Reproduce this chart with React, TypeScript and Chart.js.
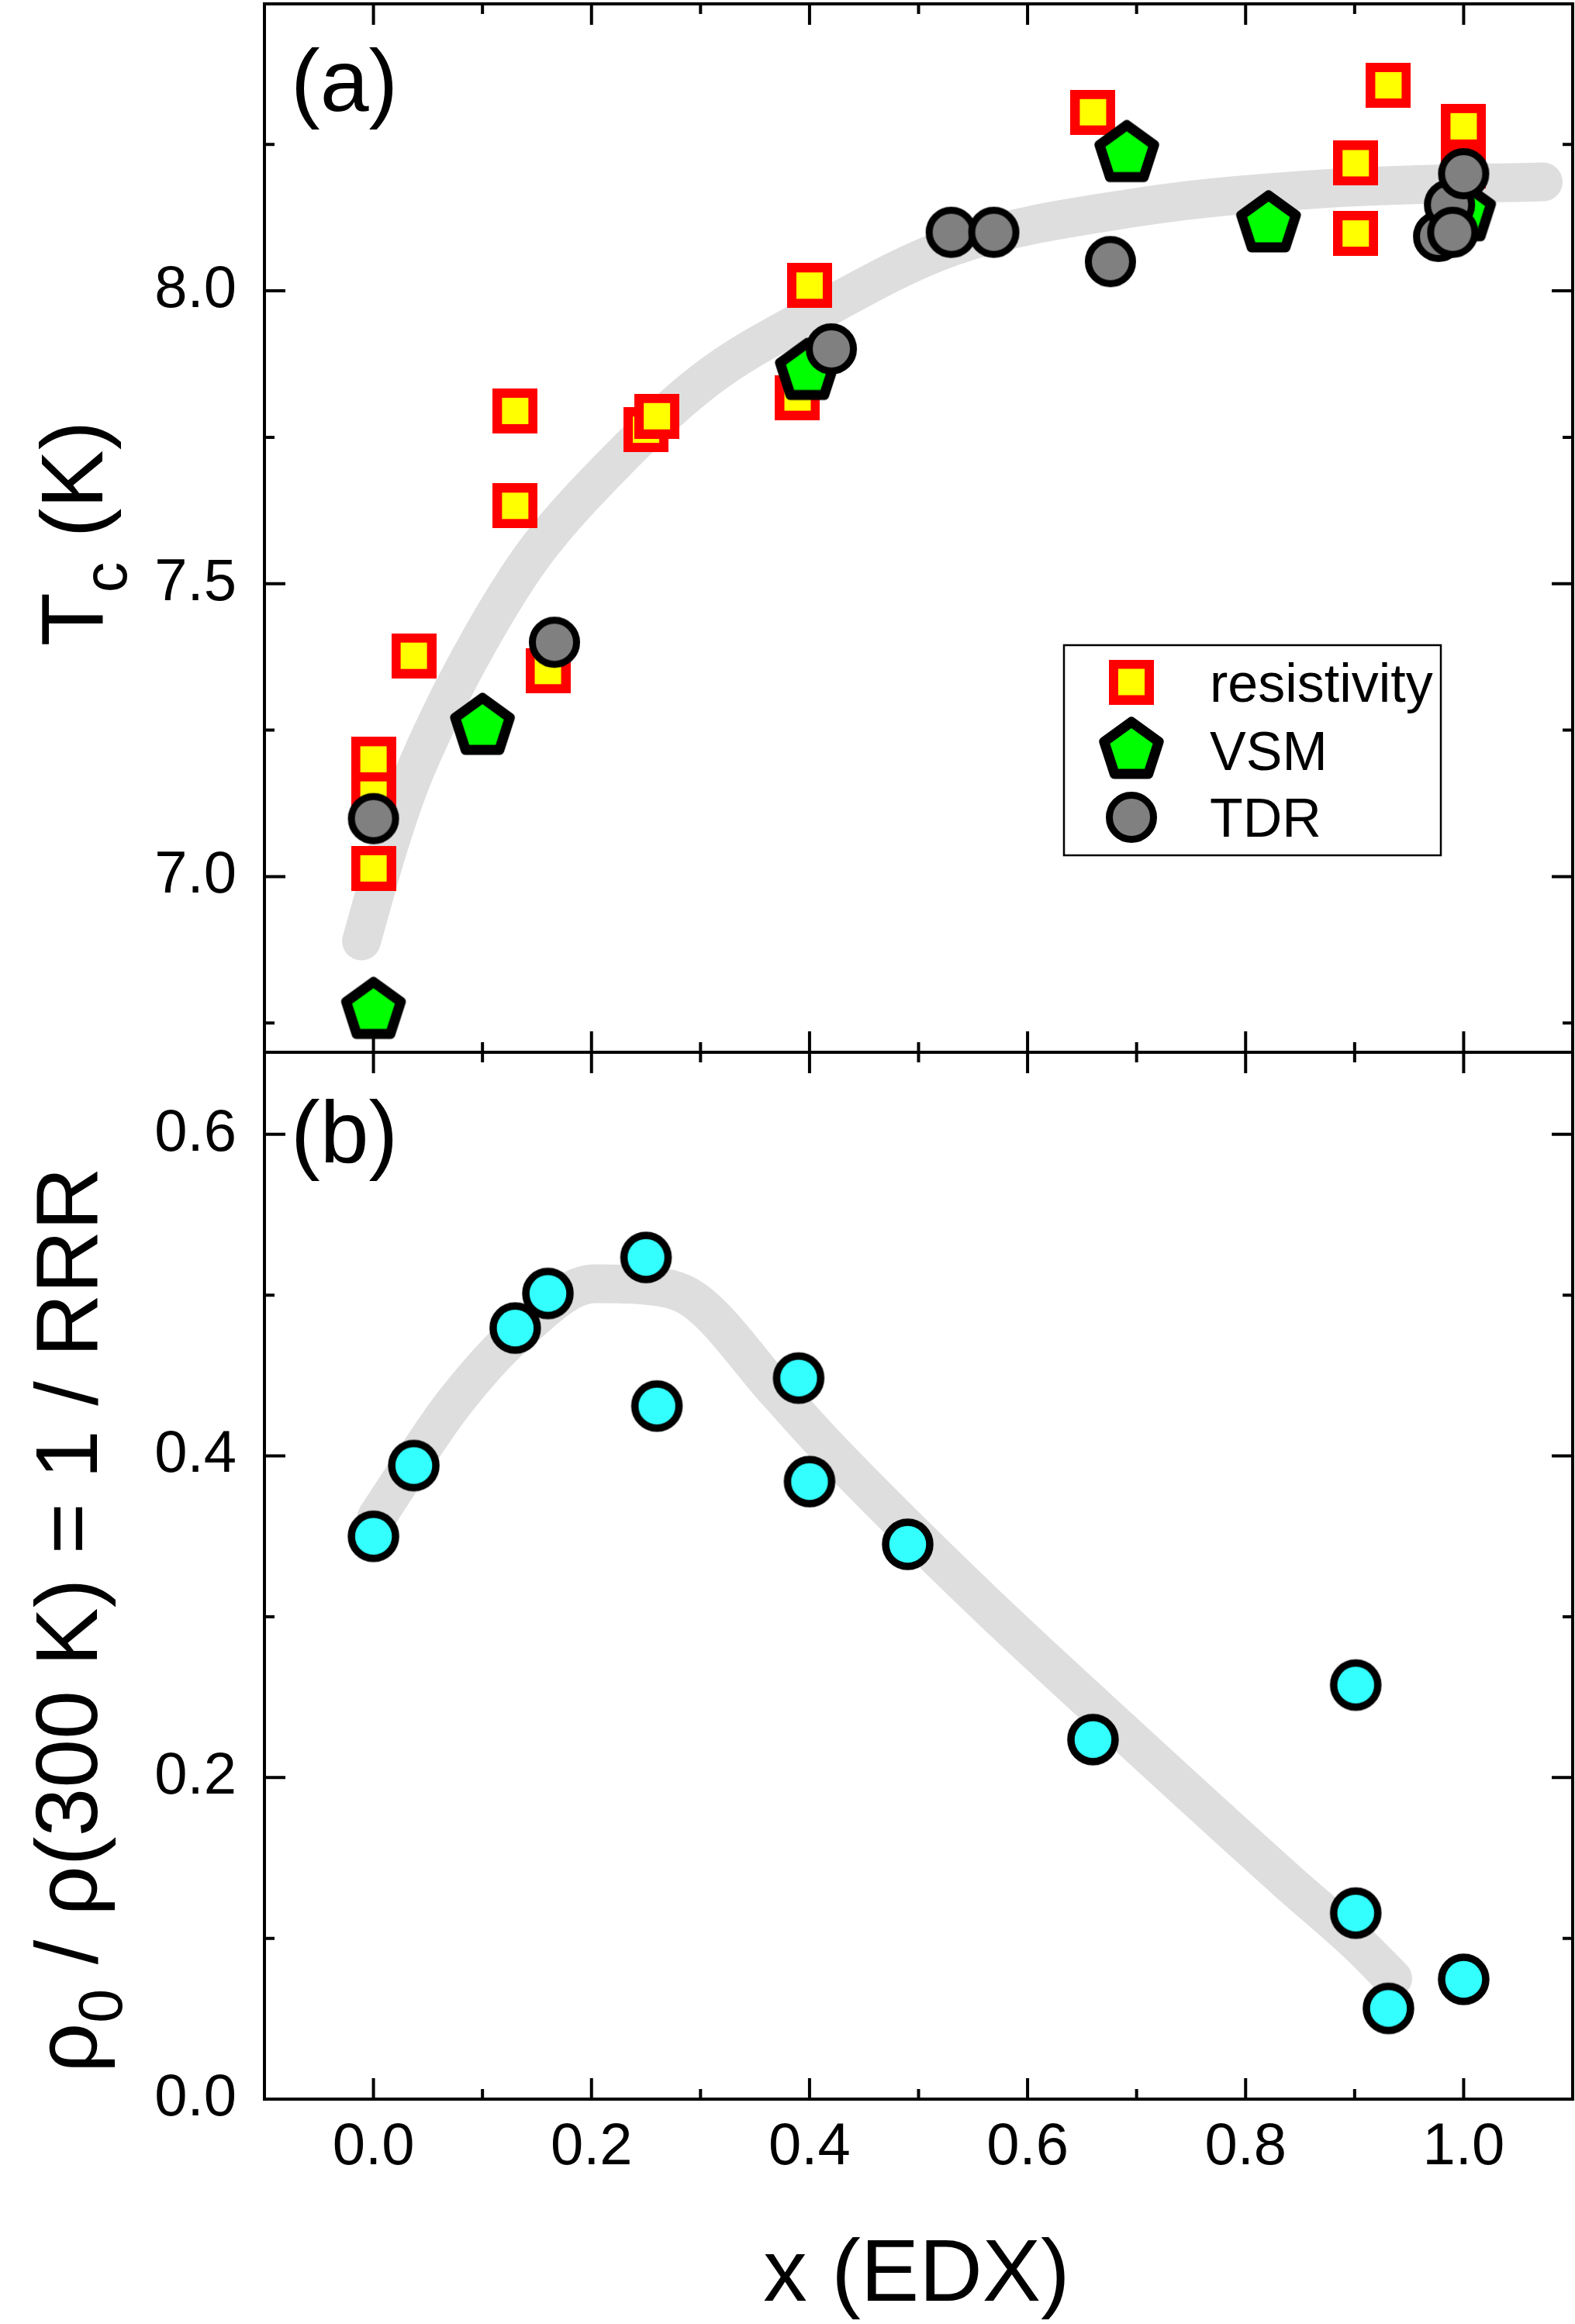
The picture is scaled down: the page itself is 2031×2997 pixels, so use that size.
import React, { useEffect, useRef } from 'react';
import { Chart, registerables } from 'chart.js';

Chart.register(...registerables);

const FONT = "'Liberation Sans', Arial, Helvetica, sans-serif";

// ---------- axes ----------
const xMin = -0.1;
const xMax = 1.1;
const xMajorTicks = [0.0, 0.2, 0.4, 0.6, 0.8, 1.0];
const xMinorTicks = [0.1, 0.3, 0.5, 0.7, 0.9];

const tcMin = 6.7;
const tcMax = 8.49;
const tcMajorTicks = [7.0, 7.5, 8.0];
const tcMinorTicks = [6.75, 7.25, 7.75, 8.25];

const rrrMin = 0.0;
const rrrMax = 0.651;
const rrrMajorTicks = [0.0, 0.2, 0.4, 0.6];
const rrrMinorTicks = [0.1, 0.3, 0.5];

// ---------- panel (a): Tc ----------
const resistivityX = [0.0, 0.0, 0.0, 0.037, 0.13, 0.13, 0.16, 0.25, 0.26, 0.389, 0.40, 0.66, 0.901, 0.901, 0.931, 1.0, 1.0];
const resistivityTc = [7.20, 7.14, 7.014, 7.377, 7.795, 7.633, 7.351, 7.763, 7.786, 7.818, 8.009, 8.305, 8.218, 8.098, 8.351, 8.281, 8.213];

const vsmX = [0.0, 0.10, 0.398, 0.691, 0.821, 1.0];
const vsmTc = [6.771, 7.256, 7.862, 8.234, 8.114, 8.133];

const tdrX = [0.0, 0.166, 0.42, 0.53, 0.569, 0.676, 0.977, 0.987, 0.99, 1.0];
const tdrTc = [7.099, 7.40, 7.901, 8.10, 8.10, 8.05, 8.093, 8.147, 8.10, 8.20];

const tcGuideX = [-0.011, 0.012, 0.033, 0.061, 0.094, 0.132, 0.155, 0.205, 0.303, 0.408, 0.53, 0.698, 0.886, 1.073];
const tcGuideY = [6.89, 7.04, 7.156, 7.274, 7.392, 7.51, 7.57, 7.675, 7.846, 7.964, 8.075, 8.142, 8.176, 8.186];

const legendLabels = ['resistivity', 'VSM', 'TDR'];

// ---------- panel (b): rho0 / rho(300 K) ----------
const rrrX = [0.0, 0.037, 0.13, 0.16, 0.25, 0.26, 0.39, 0.40, 0.49, 0.66, 0.901, 0.901, 0.931, 1.0];
const rrrY = [0.350, 0.394, 0.4795, 0.501, 0.5234, 0.431, 0.4484, 0.384, 0.345, 0.2236, 0.2575, 0.1157, 0.0564, 0.0745];

const rrrGuideX = [0.003, 0.037, 0.074, 0.13, 0.203, 0.25, 0.294, 0.37, 0.417, 0.558, 0.698, 0.839, 0.901, 0.935];
const rrrGuideY = [0.362, 0.397, 0.433, 0.475, 0.507, 0.506, 0.497, 0.44, 0.405, 0.31, 0.222, 0.135, 0.098, 0.075];

const toPoints = (xs: number[], ys: number[]) => xs.map((x, i) => ({ x, y: ys[i] }));

// ---------- marker images ----------
function makeSquare() {
  const c = document.createElement('canvas');
  c.width = 58;
  c.height = 58;
  const g = c.getContext('2d')!;
  g.fillStyle = '#ff0000';
  g.fillRect(0, 0, 58, 58);
  g.fillStyle = '#ffff00';
  g.fillRect(12, 12, 34, 34);
  return c;
}

function makePentagon() {
  const c = document.createElement('canvas');
  c.width = 96;
  c.height = 96;
  const g = c.getContext('2d')!;
  const R = 37;
  g.beginPath();
  for (let k = 0; k < 5; k++) {
    const a = -Math.PI / 2 + (k * 2 * Math.PI) / 5;
    const px = 48 + R * Math.cos(a);
    const py = 48 + R * Math.sin(a);
    if (k === 0) g.moveTo(px, py);
    else g.lineTo(px, py);
  }
  g.closePath();
  g.fillStyle = '#00ff00';
  g.fill();
  g.lineWidth = 13;
  g.lineJoin = 'round';
  g.strokeStyle = '#000000';
  g.stroke();
  return c;
}

function makeCircle(fill: string, r: number, lw: number) {
  const size = Math.ceil(2 * r + lw + 4);
  const c = document.createElement('canvas');
  c.width = size;
  c.height = size;
  const g = c.getContext('2d')!;
  g.beginPath();
  g.arc(size / 2, size / 2, r, 0, Math.PI * 2);
  g.fillStyle = fill;
  g.fill();
  g.lineWidth = lw;
  g.strokeStyle = '#000000';
  g.stroke();
  return c;
}

// ---------- drawing helpers ----------
function drawFrame(chart: any, yMajor: number[], yMinor: number[]) {
  const { ctx, chartArea: a, scales } = chart;
  const xs = scales.x;
  const ys = scales.y;
  ctx.save();
  ctx.strokeStyle = '#000';
  ctx.lineWidth = 4;
  ctx.lineCap = 'butt';
  ctx.beginPath();
  const major = 27;
  const minor = 13;
  const xt = (v: number, len: number) => {
    const p = xs.getPixelForValue(v);
    ctx.moveTo(p, a.bottom);
    ctx.lineTo(p, a.bottom - len);
    ctx.moveTo(p, a.top);
    ctx.lineTo(p, a.top + len);
  };
  const yt = (v: number, len: number) => {
    const p = ys.getPixelForValue(v);
    ctx.moveTo(a.left, p);
    ctx.lineTo(a.left + len, p);
    ctx.moveTo(a.right, p);
    ctx.lineTo(a.right - len, p);
  };
  xMajorTicks.forEach((v) => xt(v, major));
  xMinorTicks.forEach((v) => xt(v, minor));
  yMajor.forEach((v) => yt(v, major));
  yMinor.forEach((v) => yt(v, minor));
  ctx.stroke();
  ctx.strokeRect(a.left, a.top, a.right - a.left, a.bottom - a.top);
  ctx.restore();
}

type Piece = { text: string; size: number; dy: number };

function drawRotated(ctx: CanvasRenderingContext2D, pieces: Piece[], baseX: number, centerY: number) {
  ctx.save();
  ctx.translate(baseX, centerY);
  ctx.rotate(-Math.PI / 2);
  ctx.fillStyle = '#000';
  ctx.textBaseline = 'alphabetic';
  ctx.textAlign = 'left';
  let total = 0;
  const widths = pieces.map((p) => {
    ctx.font = `${p.size}px ${FONT}`;
    const w = ctx.measureText(p.text).width;
    total += w;
    return w;
  });
  let cx = -total / 2;
  pieces.forEach((p, i) => {
    ctx.font = `${p.size}px ${FONT}`;
    ctx.fillText(p.text, cx, p.dy);
    cx += widths[i];
  });
  ctx.restore();
}

function yAxis(min: number, max: number, ticks: number[]) {
  return {
    type: 'linear',
    position: 'left',
    min,
    max,
    grid: { display: false, drawTicks: false },
    border: { display: false },
    ticks: {
      font: { family: FONT, size: 76 },
      color: '#000',
      padding: 36,
      autoSkip: false,
      callback: (v: any) => Number(v).toFixed(1),
    },
    afterBuildTicks: (s: any) => {
      s.ticks = ticks.map((v) => ({ value: v }));
    },
    afterFit: (s: any) => {
      s.width = 341;
      s.paddingTop = 0;
      s.paddingBottom = 0;
    },
  };
}

export default function App() {
  const refA = useRef<HTMLCanvasElement>(null);
  const refB = useRef<HTMLCanvasElement>(null);

  useEffect(() => {
    const square = makeSquare();
    const pent = makePentagon();
    const gray = makeCircle('#808080', 28.5, 9);
    const cyan = makeCircle('#33ffff', 28.5, 9.5);
    const legendMarkers = [square, pent, gray];

    const panelAPlugin = {
      id: 'panelA',
      afterDatasetsDraw(chart: any) {
        drawFrame(chart, tcMajorTicks, tcMinorTicks);
      },
      afterDraw(chart: any) {
        const ctx = chart.ctx as CanvasRenderingContext2D;
        drawRotated(
          ctx,
          [
            { text: 'T', size: 113, dy: 0 },
            { text: 'c', size: 79, dy: 31 },
            { text: ' (K)', size: 113, dy: 0 },
          ],
          132,
          688
        );
        ctx.save();
        ctx.fillStyle = '#000';
        ctx.textAlign = 'left';
        ctx.textBaseline = 'alphabetic';
        ctx.font = `113px ${FONT}`;
        ctx.fillText('(a)', 375, 143);
        // legend
        ctx.lineWidth = 2.5;
        ctx.strokeStyle = '#000';
        ctx.strokeRect(1372, 832, 486, 271);
        const rows = [879.5, 968, 1054];
        ctx.font = `70px ${FONT}`;
        legendLabels.forEach((lab, i) => {
          const m = legendMarkers[i];
          ctx.drawImage(m, 1459 - m.width / 2, rows[i] - m.height / 2);
          ctx.fillText(lab, 1560, rows[i] + 25);
        });
        ctx.restore();
      },
    };

    const panelBPlugin = {
      id: 'panelB',
      afterDatasetsDraw(chart: any) {
        drawFrame(chart, rrrMajorTicks, rrrMinorTicks);
      },
      afterDraw(chart: any) {
        const ctx = chart.ctx as CanvasRenderingContext2D;
        drawRotated(
          ctx,
          [
            { text: 'ρ', size: 113, dy: 0 },
            { text: '0', size: 79, dy: 32 },
            { text: ' / ρ(300 K) = 1 / RRR', size: 113, dy: 0 },
          ],
          125,
          749
        );
        ctx.save();
        ctx.fillStyle = '#000';
        ctx.textBaseline = 'alphabetic';
        ctx.font = `113px ${FONT}`;
        ctx.textAlign = 'left';
        ctx.fillText('(b)', 375, 159);
        ctx.textAlign = 'center';
        ctx.fillText('x (EDX)', 1182, 1627);
        ctx.restore();
      },
    };

    const guideStyle = {
      showLine: true,
      borderColor: '#dedede',
      borderWidth: 50,
      borderCapStyle: 'round',
      borderJoinStyle: 'round',
      pointRadius: 0,
      cubicInterpolationMode: 'monotone',
      fill: false,
      order: 10,
    };

    const chartA = new Chart(refA.current as HTMLCanvasElement, {
      type: 'scatter',
      data: {
        datasets: [
          { label: 'guide', data: toPoints(tcGuideX, tcGuideY), ...guideStyle } as any,
          { label: legendLabels[0], data: toPoints(resistivityX, resistivityTc), pointStyle: square, pointRadius: 29, order: 3 } as any,
          { label: legendLabels[1], data: toPoints(vsmX, vsmTc), pointStyle: pent, pointRadius: 40, order: 2 } as any,
          { label: legendLabels[2], data: toPoints(tdrX, tdrTc), pointStyle: gray, pointRadius: 33, order: 1 } as any,
        ],
      },
      options: {
        animation: false,
        responsive: false,
        devicePixelRatio: 1,
        events: [],
        layout: { autoPadding: false, padding: { top: 5, bottom: 3, left: 0, right: 3 } },
        plugins: { legend: { display: false }, tooltip: { enabled: false } },
        scales: {
          x: { type: 'linear', min: xMin, max: xMax, display: false },
          y: yAxis(tcMin, tcMax, tcMajorTicks),
        } as any,
      } as any,
      plugins: [panelAPlugin as any],
    });

    const chartB = new Chart(refB.current as HTMLCanvasElement, {
      type: 'scatter',
      data: {
        datasets: [
          { label: 'guide', data: toPoints(rrrGuideX, rrrGuideY), ...guideStyle } as any,
          { label: 'RRR', data: toPoints(rrrX, rrrY), pointStyle: cyan, pointRadius: 33, order: 1 } as any,
        ],
      },
      options: {
        animation: false,
        responsive: false,
        devicePixelRatio: 1,
        events: [],
        layout: { autoPadding: false, padding: { top: 17, bottom: 0, left: 0, right: 3 } },
        plugins: { legend: { display: false }, tooltip: { enabled: false } },
        scales: {
          x: {
            type: 'linear',
            position: 'bottom',
            min: xMin,
            max: xMax,
            grid: { display: false, drawTicks: false },
            border: { display: false },
            ticks: {
              font: { family: FONT, size: 76 },
              color: '#000',
              padding: 17,
              maxRotation: 0,
              autoSkip: false,
              callback: (v: any) => Number(v).toFixed(1),
            },
            afterBuildTicks: (s: any) => {
              s.ticks = xMajorTicks.map((v) => ({ value: v }));
            },
            afterFit: (s: any) => {
              s.height = 290;
              s.paddingLeft = 0;
              s.paddingRight = 0;
            },
          },
          y: yAxis(rrrMin, rrrMax, rrrMajorTicks),
        } as any,
      } as any,
      plugins: [panelBPlugin as any],
    });

    return () => {
      chartA.destroy();
      chartB.destroy();
    };
  }, []);

  return (
    <div style={{ position: 'absolute', left: 0, top: 0, width: 2031, height: 2997, background: '#ffffff' }}>
      <canvas ref={refA} width={2031} height={1360} style={{ position: 'absolute', left: 0, top: 0 }} />
      <canvas ref={refB} width={2031} height={1657} style={{ position: 'absolute', left: 0, top: 1340 }} />
    </div>
  );
}
